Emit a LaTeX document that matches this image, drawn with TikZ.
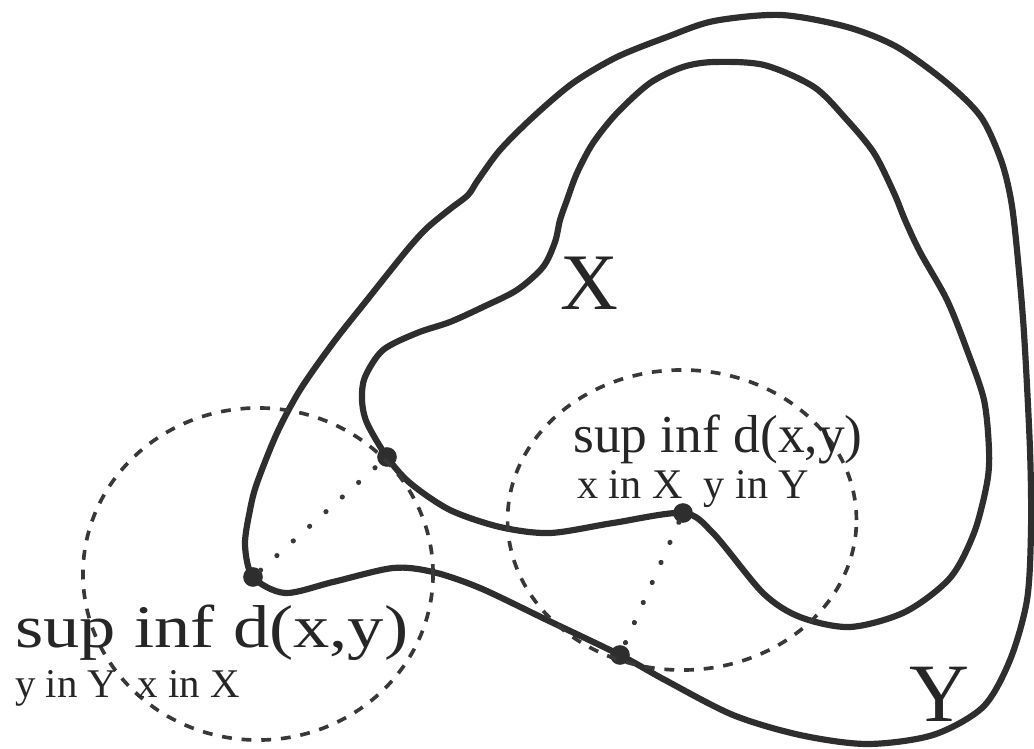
\documentclass[tikz,border=0pt]{standalone}
\usepackage{fontspec}
\setmainfont{Liberation Serif}
\usetikzlibrary{positioning}

\begin{document}
\begin{tikzpicture}[x=0.025cm, y=-0.025cm, curve/.style={line width=4.4pt, draw=black!82, line join=round}, ring/.style={line width=2.6pt, draw=black!78, dash pattern=on 7pt off 7pt}, link/.style={line width=3.6pt, draw=black!78, dash pattern=on 0.1pt off 15.5pt, line cap=round}, spot/.style={circle, fill=black!82, inner sep=0pt, minimum size=14pt}, lbl/.style={inner sep=0pt, anchor=base west, text=black!85}]
\useasboundingbox (0,0) rectangle (1034,749);
% points where the distances are taken
\coordinate (ya) at (253,577);
\coordinate (xa) at (387,457);
\coordinate (xb) at (683,513);
\coordinate (yb) at (620,655);
% the set Y
\draw[curve] plot[smooth cycle] coordinates {(250,510) (257,483) (277,433) (300,390) (333,343) (367,300) (407,250) (427,228) (450,209) (468,195) (478,180) (500,150) (533,117) (573,83) (617,57) (667,37) (714,21) (781,15) (847,27) (897,47) (947,83) (981,117) (1001,160) (1011,200) (1017,250) (1024,333) (1030,450) (1031,530) (1027,600) (1010,660) (983,707) (933,735) (867,744) (800,735) (733,715) (665,680) (yb) (547,620) (480,588) (433,572) (393,568) (333,582) (285,593) (ya) (245,545)};
% the set X
\draw[curve] plot[smooth cycle] coordinates {(714,62) (764,65) (814,87) (847,120) (874,153) (894,193) (905,220) (920,252) (947,300) (967,350) (984,400) (989,450) (987,483) (974,533) (950,578) (905,612) (850,627) (800,617) (763,593) (713,533) (xb) (613,523) (550,533) (500,527) (450,510) (410,483) (xa) (367,423) (362,400) (365,377) (383,350) (417,333) (450,322) (483,307) (517,290) (543,267) (555,242) (560,220) (567,200) (577,173) (593,143) (617,113) (650,83) (683,67)};
\node[spot] (dya) at (ya) {};
\node[spot] (dxa) at (xa) {};
\node[spot] (dxb) at (xb) {};
\node[spot] (dyb) at (yb) {};
\draw[ring] (258,574) ellipse [x radius=4.375cm, y radius=4.15cm];
\draw[ring] (682,520) ellipse [x radius=4.36cm, y radius=3.75cm];
\draw[link] (dya) -- (dxa);
\draw[link] (dxb) -- (dyb);
% labels
\node[lbl, anchor=center] (lx) at (589,283) {\fontsize{57}{57}\selectfont X};
\node[lbl, anchor=center] (ly) at (939,694) {\fontsize{59}{59}\selectfont Y};
\node[lbl] (supr) at (573,452) {\fontsize{38}{38}\selectfont sup inf d(x,y)};
\node[lbl] (subr) at (577,498) {\fontsize{30}{30}\selectfont x in X\enspace y in Y};
\node[lbl, xscale=1.2] (supl) at (15,647) {\fontsize{43}{43}\selectfont sup inf d(x,y)};
\node[lbl] (subl) at (15,697) {\fontsize{29}{29}\selectfont y in Y\enspace x in X};
\end{tikzpicture}
\end{document}
